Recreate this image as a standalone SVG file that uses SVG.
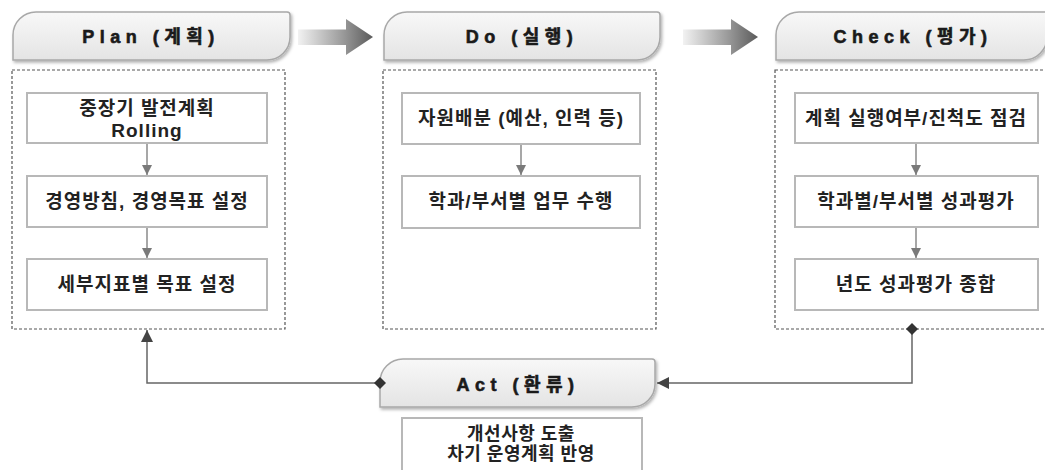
<svg xmlns="http://www.w3.org/2000/svg" width="1045" height="470" viewBox="0 0 1045 470">
<defs>
<linearGradient id="hdrFill" x1="0" y1="0" x2="0" y2="1">
<stop offset="0" stop-color="#f8f8f8"/>
<stop offset="1" stop-color="#e4e4e4"/>
</linearGradient>
<linearGradient id="bigArrow" x1="0" y1="0" x2="1" y2="0">
<stop offset="0" stop-color="#f2f2f2"/>
<stop offset="0.6" stop-color="#9a9a9a"/>
<stop offset="1" stop-color="#5a5a5a"/>
</linearGradient>
<filter id="shadow" x="-10%" y="-20%" width="120%" height="150%">
<feDropShadow dx="1.5" dy="2" stdDeviation="1.8" flood-color="#000" flood-opacity="0.3"/>
</filter>
<marker id="tri" viewBox="0 0 10 10" refX="10" refY="5" markerWidth="10" markerHeight="10" markerUnits="userSpaceOnUse" orient="auto">
<path d="M0,0 L10,5 L0,10 Z" fill="#7a7a7a"/>
</marker>
<marker id="triDark" viewBox="0 0 12 12" refX="12" refY="6" markerWidth="12" markerHeight="12" markerUnits="userSpaceOnUse" orient="auto">
<path d="M0,0 L12,6 L0,12 Z" fill="#444"/>
</marker>
<marker id="dia" viewBox="0 0 12 12" refX="6" refY="6" markerWidth="12" markerHeight="12" markerUnits="userSpaceOnUse" orient="auto">
<path d="M0,6 L6,0 L12,6 L6,12 Z" fill="#333"/>
</marker>
</defs>
<style>
.hdr{fill:url(#hdrFill);stroke:#a8a8a8;stroke-width:1.5;filter:url(#shadow)}
.hdrText{font-family:"Liberation Sans","Noto Sans CJK KR",sans-serif;font-weight:bold;font-size:18px;letter-spacing:5.5px;fill:#1a1a1a;stroke:#1a1a1a;stroke-width:0.6;text-anchor:middle}
.dash{fill:none;stroke:#555;stroke-width:1.2;stroke-dasharray:3 2}
.box{fill:#fff;stroke:#b8b8b8;stroke-width:2}
.boxText{font-family:"Liberation Sans","Noto Sans CJK KR",sans-serif;font-weight:bold;font-size:19px;letter-spacing:1px;fill:#222;text-anchor:middle}
.actText{font-size:18px;letter-spacing:0.5px}
.flow{stroke:#8a8a8a;stroke-width:1.5;fill:none;marker-end:url(#tri)}
.loop{stroke:#666;stroke-width:1.5;fill:none}
.bigArr{fill:url(#bigArrow)}
</style>
<rect width="1045" height="470" fill="#fff"/>

<g id="plan">
<path class="hdr" d="M13,60 V35 A23,23 0 0 1 36,12 H287 Q290,12 290,15 V37 A23,23 0 0 1 267,60 Z"/>
<text class="hdrText" x="151" y="43">Plan (계획)</text>
<rect class="dash" x="12" y="70" width="273" height="259"/>
</g>
<g id="plan-1">
<rect class="box" x="27" y="93" width="240" height="50"/>
<text class="boxText" x="147" y="115">중장기 발전계획</text>
<text class="boxText" x="147" y="137">Rolling</text>
</g>
<g id="plan-2">
<rect class="box" x="27" y="176" width="240" height="51"/>
<text class="boxText" x="147" y="208">경영방침, 경영목표 설정</text>
</g>
<g id="plan-3">
<rect class="box" x="27" y="259" width="240" height="51"/>
<text class="boxText" x="147" y="291">세부지표별 목표 설정</text>
</g>

<g id="do">
<path class="hdr" d="M384,60 V35 A23,23 0 0 1 407,12 H657 Q660,12 660,15 V37 A23,23 0 0 1 637,60 Z"/>
<text class="hdrText" x="522" y="43">Do (실행)</text>
<rect class="dash" x="383" y="70" width="273" height="259"/>
</g>
<g id="do-1">
<rect class="box" x="402" y="93" width="238" height="51"/>
<text class="boxText" x="521" y="125">자원배분 (예산, 인력 등)</text>
</g>
<g id="do-2">
<rect class="box" x="402" y="176" width="238" height="52"/>
<text class="boxText" x="521" y="208">학과/부서별 업무 수행</text>
</g>

<g id="check">
<path class="hdr" d="M776,60 V35 A23,23 0 0 1 799,12 H1047 V37 A23,23 0 0 1 1024,60 Z"/>
<text class="hdrText" x="913" y="43">Check (평가)</text>
<rect class="dash" x="775" y="70" width="275" height="259"/>
</g>
<g id="check-1">
<rect class="box" x="795" y="93" width="243" height="50"/>
<text class="boxText" x="916" y="125">계획 실행여부/진척도 점검</text>
</g>
<g id="check-2">
<rect class="box" x="795" y="176" width="243" height="51"/>
<text class="boxText" x="916" y="208">학과별/부서별 성과평가</text>
</g>
<g id="check-3">
<rect class="box" x="795" y="259" width="243" height="51"/>
<text class="boxText" x="916" y="291">년도 성과평가 종합</text>
</g>

<g id="act">
<path class="hdr" d="M380,407 V382 A23,23 0 0 1 403,359 H652 Q655,359 655,362 V384 A23,23 0 0 1 632,407 Z"/>
<text class="hdrText" x="518" y="391">Act (환류)</text>
</g>
<g id="act-1">
<rect class="box" x="402" y="418" width="240" height="60"/>
<text class="boxText actText" x="521" y="440">개선사항 도출</text>
<text class="boxText actText" x="521" y="460">차기 운영계획 반영</text>
</g>

<g id="connectors">
<path class="bigArr" d="M298,29.5 H346 V19 L373,37 L346,55 V45 H298 Z"/>
<path class="bigArr" d="M683,29.5 H731 V19 L758,37 L731,55 V45 H683 Z"/>
<line class="flow" x1="147" y1="144" x2="147" y2="175"/>
<line class="flow" x1="147" y1="228" x2="147" y2="258"/>
<line class="flow" x1="521" y1="145" x2="521" y2="175"/>
<line class="flow" x1="916" y1="144" x2="916" y2="175"/>
<line class="flow" x1="916" y1="228" x2="916" y2="258"/>
<path class="loop" d="M912,329 V383 H657" marker-start="url(#dia)" marker-end="url(#triDark)"/>
<path class="loop" d="M380,383 H147 V330" marker-start="url(#dia)" marker-end="url(#triDark)"/>
</g>
</svg>
